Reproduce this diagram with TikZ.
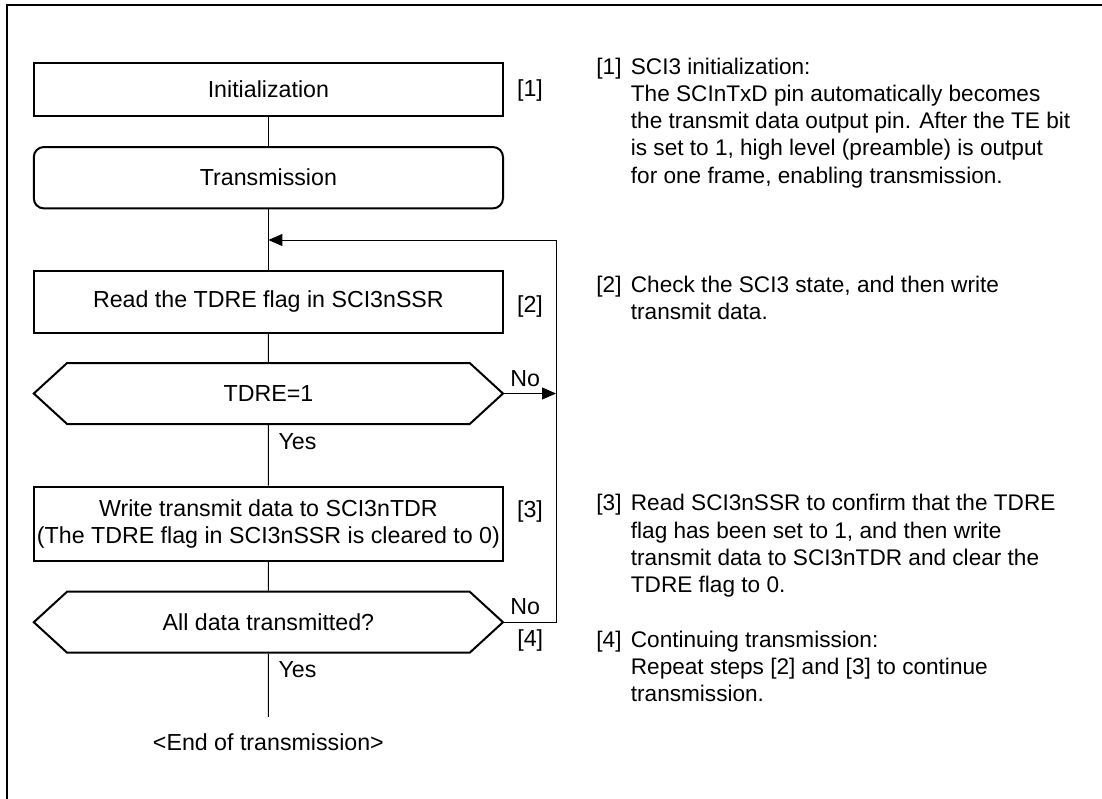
\documentclass[tikz,border=0pt]{standalone}
\usepackage{fontspec}
\setmainfont{Liberation Sans}
\usetikzlibrary{arrows.meta, shapes.symbols}

\begin{document}
\begin{tikzpicture}[x=0.5pt, y=-0.5pt,
    font=\fontsize{11.6}{13.4}\selectfont,
    process/.style={rectangle, draw, line width=1pt, minimum width=234.6pt, align=center, inner sep=0pt},
    start/.style={process, rounded corners=5pt},
    decision/.style={signal, signal to=west and east, signal pointer angle=85, draw, line width=1pt, minimum width=234.6pt, minimum height=30.5pt, inner sep=0pt},
    line/.style={line width=0.5pt},
    arrow/.style={line, -{Triangle[length=7pt, width=6pt]}},
    note/.style={anchor=base west, align=left, inner sep=0pt, font=\fontsize{11.3}{13.6}\selectfont}
]
\useasboundingbox (0,0) rectangle (1102,798);
% frame
\draw[line width=1pt] (7,800) -- (7,5) -- (1104,5);

% flow
\node[process, minimum height=26.35pt] (init) at (268.4,89.7) {Initialization};
\node[start, minimum height=30.65pt] (trans) at (268.4,177.7) {Transmission};
\node[process, minimum height=31pt] (read) at (268.4,301.7) {Read the TDRE flag in SCI3nSSR};
\node[decision] (tdre) at (268.4,393.5) {TDRE=1};
\node[process, minimum height=37.15pt] (write) at (268.4,523.8) {Write transmit data to SCI3nTDR\\(The TDRE flag in SCI3nSSR is cleared to 0)};
\node[decision] (alldata) at (268.4,622.2) {All data transmitted?};
\node[inner ysep=8pt] (finish) at (268.4,741.7) {<End of transmission>};

% step tags
\node (tag1) at (530,90) {[1]};
\node (tag2) at (530,306.7) {[2]};
\node (tag3) at (530,511.7) {[3]};

% lines
\coordinate (looptop) at (556,240);
\draw[line] (init) -- (trans);
\draw[line] (trans) -- (read);
\draw[line] (read) -- (tdre);
\draw[line] (tdre) -- node[anchor=west, pos=0.28, xshift=1.5pt] {Yes} (write);
\draw[line] (write) -- (alldata);
\draw[line] (alldata) -- node[anchor=west, pos=0.25, xshift=1.5pt] {Yes} (finish);
\draw[arrow] (tdre.east) -- node[above, pos=0.4] {No} (tdre.east -| looptop);
\draw[arrow] (alldata.east) -- node[above, pos=0.4] {No} node[below] {[4]} (alldata.east -| looptop) -- (looptop) -- (looptop -| trans.south);

% notes (base = last line)
\node[note] (num1) at (596,74.2) {[1]};
\node[note] (txt1) at (630.5,183.0) {SCI3 initialization:\\The SCInTxD pin automatically becomes\\the transmit data output pin. After the TE bit\\is set to 1, high level (preamble) is output\\for one frame, enabling transmission.};
\node[note] (num2) at (596,292.5) {[2]};
\node[note] (txt2) at (630.5,319.7) {Check the SCI3 state, and then write\\transmit data.};
\node[note] (num3) at (596,510.8) {[3]};
\node[note] (txt3) at (630.5,592.4) {Read SCI3nSSR to confirm that the TDRE\\flag has been set to 1, and then write\\transmit data to SCI3nTDR and clear the\\TDRE flag to 0.};
\node[note] (num4) at (596,647.5) {[4]};
\node[note] (txt4) at (630.5,701.9) {Continuing transmission:\\Repeat steps [2] and [3] to continue\\transmission.};
\end{tikzpicture}
\end{document}
